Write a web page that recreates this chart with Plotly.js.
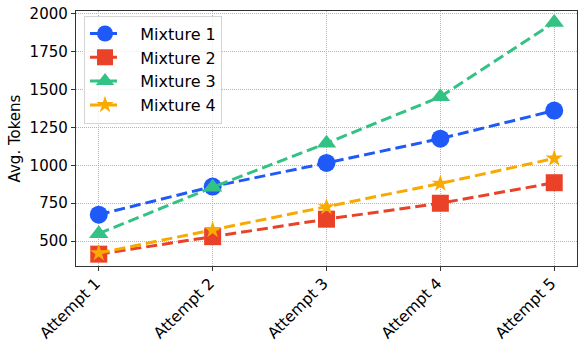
<!DOCTYPE html>
<html>
<head>
<meta charset="utf-8">
<script src="https://cdn.plot.ly/plotly-3.0.1.min.js"></script>
<style>
  html, body { margin: 0; padding: 0; background: #fff; }
  #chart { width: 578px; height: 344px; }
</style>
</head>
<body>
<div id="chart"></div>
<script>
// Average token count per attempt for each mixture
const attempts = ["Attempt 1", "Attempt 2", "Attempt 3", "Attempt 4", "Attempt 5"];
const mixture1 = [675, 860, 1015, 1175, 1360];
const mixture2 = [415, 530, 645, 750, 885];
const mixture3 = [550, 855, 1145, 1450, 1940];
const mixture4 = [422, 575, 725, 880, 1045];

const seriesNames = ["Mixture 1", "Mixture 2", "Mixture 3", "Mixture 4"];
const seriesValues = [mixture1, mixture2, mixture3, mixture4];
const seriesColors = ["#1f5af8", "#ea4228", "#33c283", "#f9aa00"];
const seriesSymbols = ["circle", "square", "triangle-up", "star"];
const seriesSizes = [18, 17, 17, 13];

const xIdx = attempts.map((_, i) => i);
// a little extra room between the legend sample and its label
const labelPad = "\u00a0\u00a0\u00a0";

const traces = seriesValues.map((vals, k) => ({
  type: "scatter",
  mode: "lines+markers",
  name: labelPad + seriesNames[k],
  x: xIdx,
  y: vals,
  line: { color: seriesColors[k], width: 3, dash: "11px,5px" },
  marker: {
    color: seriesColors[k],
    symbol: seriesSymbols[k],
    size: seriesSizes[k],
    line: { width: 0 }
  }
}));

const layout = {
  width: 578,
  height: 344,
  margin: { l: 76, r: 1, t: 11, b: 78 },
  paper_bgcolor: "#fff",
  plot_bgcolor: "#fff",
  font: { family: "DejaVu Sans, sans-serif", size: 15, color: "#000" },
  showlegend: true,
  legend: {
    x: 0.016, y: 0.982, xanchor: "left", yanchor: "top",
    bgcolor: "rgba(255,255,255,0.8)",
    bordercolor: "#d4d4d4", borderwidth: 1,
    font: { size: 16, color: "#000" },
    itemwidth: 30
  },
  xaxis: {
    range: [-0.2, 4.2],
    tickmode: "array",
    tickvals: xIdx,
    ticktext: attempts,
    tickangle: -45,
    ticks: "outside", ticklen: 4, tickwidth: 1, tickcolor: "#333",
    ticklabelshift: -3,
    ticklabelstandoff: -3,
    showline: true, linecolor: "#333", linewidth: 1.2, mirror: true,
    showgrid: true, gridcolor: "#b4b4b4", gridwidth: 1, griddash: "1px,1px",
    zeroline: false,
    tickfont: { size: 15.5 }
  },
  yaxis: {
    range: [337, 2015],
    tickmode: "array",
    tickvals: [500, 750, 1000, 1250, 1500, 1750, 2000],
    ticks: "outside", ticklen: 4, tickwidth: 1, tickcolor: "#333",
    showline: true, linecolor: "#333", linewidth: 1.2, mirror: true,
    showgrid: true, gridcolor: "#b4b4b4", gridwidth: 1, griddash: "1px,1px",
    zeroline: false,
    tickfont: { size: 15 },
    title: { text: "Avg. Tokens", font: { size: 15 }, standoff: 5 }
  }
};

Plotly.newPlot("chart", traces, layout, { displayModeBar: false, staticPlot: true });
</script>
</body>
</html>
